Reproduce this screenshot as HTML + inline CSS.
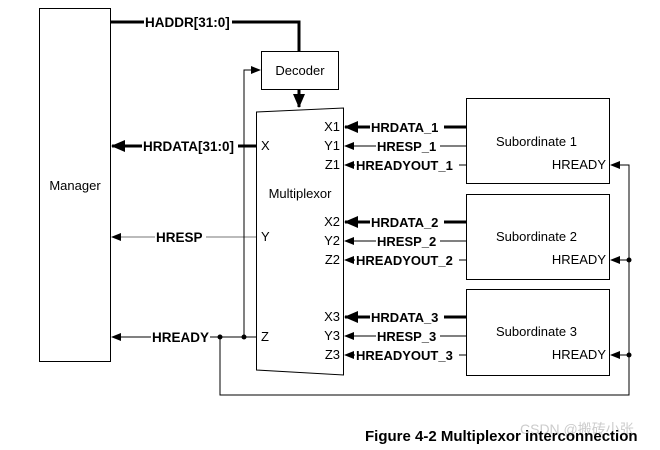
<!DOCTYPE html><html><head><style>body{margin:0;background:#fff}svg{display:block}text{font-family:"Liberation Sans",sans-serif;font-size:13px}.b{font-weight:bold;font-size:13.5px}</style></head><body>
<svg width="660" height="450" viewBox="0 0 660 450">
<defs>
<marker id="a" markerWidth="10" markerHeight="8" refX="9" refY="4" orient="auto" markerUnits="userSpaceOnUse"><path d="M0,0 L10,4 L0,8 z" fill="#000"/></marker>
<marker id="A" markerWidth="14" markerHeight="12" refX="13" refY="6" orient="auto" markerUnits="userSpaceOnUse"><path d="M0,0 L14,6 L0,12 z" fill="#000"/></marker>
</defs>
<g fill="none" stroke="#000" stroke-width="1">
<rect x="39.5" y="8.5" width="71" height="353"/>
<rect x="261.5" y="51.5" width="77" height="38"/>
<path d="M256.5,112 L343.5,108 L343.5,375 L256.5,370 Z"/>
<rect x="466.5" y="98.5" width="143" height="85"/>
<rect x="466.5" y="194.5" width="143" height="85"/>
<rect x="466.5" y="289.5" width="143" height="86"/>
<path d="M111,22 H144 M232,22 H299 V51" stroke-width="3"/>
<path d="M299,89 V107" stroke-width="3" marker-end="url(#A)"/>
<path d="M142,146 H112" stroke-width="3" marker-end="url(#A)"/>
<path d="M238,146 H256" stroke-width="3"/>
<path d="M155,237 H112" stroke="#777" marker-end="url(#a)"/>
<path d="M206,237 H256" stroke="#777"/>
<path d="M151,337 H112" marker-end="url(#a)"/>
<path d="M210,337 H256 M244,337 V70 H260" />
<path d="M244,70 H260" marker-end="url(#a)"/>
<path d="M220,337 V395 H629 V165 H611" />
<path d="M629,165 H611" marker-end="url(#a)"/>
<path d="M629,260 H611" marker-end="url(#a)"/>
<path d="M629,355 H611" marker-end="url(#a)"/>
<g>
<path d="M370,127 H345" stroke-width="3" marker-end="url(#A)"/><path d="M444,127 H466" stroke-width="3"/>
<path d="M376,146 H345" marker-end="url(#a)"/><path d="M440,146 H466"/>
<path d="M355,165 H345" marker-end="url(#a)"/><path d="M459,165 H466"/>
<path d="M370,222 H345" stroke-width="3" marker-end="url(#A)"/><path d="M444,222 H466" stroke-width="3"/>
<path d="M376,241 H345" marker-end="url(#a)"/><path d="M440,241 H466"/>
<path d="M355,260 H345" marker-end="url(#a)"/><path d="M459,260 H466"/>
<path d="M370,317 H345" stroke-width="3" marker-end="url(#A)"/><path d="M444,317 H466" stroke-width="3"/>
<path d="M376,336 H345" marker-end="url(#a)"/><path d="M440,336 H466"/>
<path d="M355,355 H345" marker-end="url(#a)"/><path d="M459,355 H466"/>
</g>
</g>
<g fill="#000"><circle cx="220" cy="337" r="2.5"/><circle cx="244" cy="337" r="2.5"/><circle cx="629" cy="260" r="2.5"/><circle cx="629" cy="355" r="2.5"/></g>
<text x="75" y="190" text-anchor="middle">Manager</text>
<text x="300" y="75" text-anchor="middle">Decoder</text>
<text x="300" y="198" text-anchor="middle">Multiplexor</text>
<text x="261" y="150">X</text><text x="261" y="241">Y</text><text x="261" y="341">Z</text>
<text class="b" x="145" y="27">HADDR[31:0]</text>
<text class="b" x="143" y="151">HRDATA[31:0]</text>
<text class="b" x="156" y="242">HRESP</text>
<text class="b" x="152" y="342">HREADY</text>
<g text-anchor="end">
<text x="340" y="131">X1</text><text x="340" y="150">Y1</text><text x="340" y="169">Z1</text>
<text x="340" y="226">X2</text><text x="340" y="245">Y2</text><text x="340" y="264">Z2</text>
<text x="340" y="321">X3</text><text x="340" y="340">Y3</text><text x="340" y="359">Z3</text>
<text x="606" y="169">HREADY</text><text x="606" y="264">HREADY</text><text x="606" y="359">HREADY</text>
</g>
<g class="b">
<text x="371" y="132">HRDATA_1</text><text x="377" y="151">HRESP_1</text><text x="356" y="170">HREADYOUT_1</text>
<text x="371" y="227">HRDATA_2</text><text x="377" y="246">HRESP_2</text><text x="356" y="265">HREADYOUT_2</text>
<text x="371" y="322">HRDATA_3</text><text x="377" y="341">HRESP_3</text><text x="356" y="360">HREADYOUT_3</text>
</g>
<text x="496" y="146">Subordinate 1</text>
<text x="496" y="241">Subordinate 2</text>
<text x="496" y="336">Subordinate 3</text>
<text x="520" y="434" fill="#ccc" style="font-size:14px">CSDN @搬砖小张</text>
<text x="365" y="441" style="font-weight:bold;font-size:15px">Figure 4-2 Multiplexor interconnection</text>
</svg></body></html>
